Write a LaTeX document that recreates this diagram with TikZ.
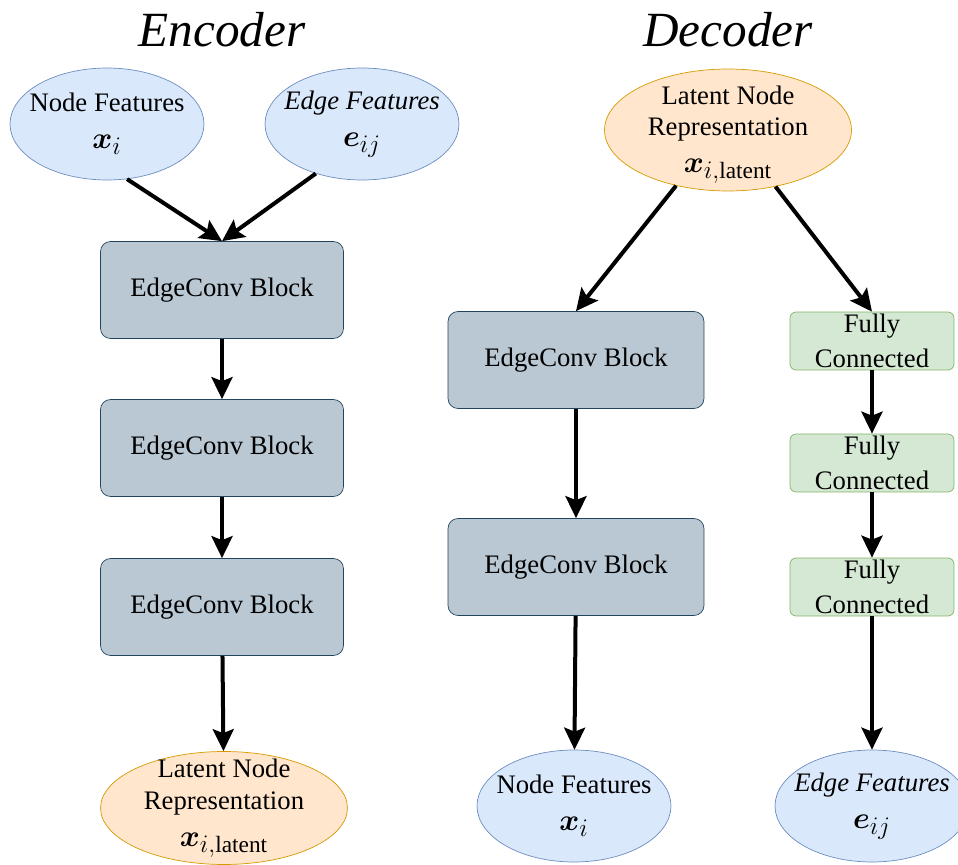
\documentclass[tikz,border=0pt]{standalone}
\usepackage{amsmath, amssymb}
\usepackage{fontspec}
\setmainfont{Liberation Serif}
\usepackage{tikz}
\usetikzlibrary{positioning, shapes.geometric, arrows.meta}
\definecolor{featFillCol}{HTML}{DAE8FC}
\definecolor{featLineCol}{HTML}{6C8EBF}
\definecolor{latFillCol}{HTML}{FFE6CC}
\definecolor{latLineCol}{HTML}{D79B00}
\definecolor{convFillCol}{HTML}{BAC8D3}
\definecolor{convLineCol}{HTML}{23445D}
\definecolor{fcFillCol}{HTML}{D5E8D4}
\definecolor{fcLineCol}{HTML}{82B366}
\tikzset{myText/.style={font=\fontsize{15.2}{18}\selectfont, align=center, inner sep=0pt}}
\tikzset{myFeat/.style={myText, ellipse, inner sep=-0.5cm, draw=featLineCol, fill=featFillCol, minimum width=3.88cm, minimum height=2.24cm}}
\tikzset{myLatent/.style={myText, ellipse, inner sep=-0.5cm, draw=latLineCol, fill=latFillCol, minimum width=4.94cm, minimum height=2.3cm}}
\tikzset{myConv/.style={myText, rectangle, rounded corners=0.2cm, draw=convLineCol, fill=convFillCol, minimum width=4.86cm, minimum height=1.94cm}}
\tikzset{myFC/.style={myText, rectangle, rounded corners=0.12cm, draw=fcLineCol, fill=fcFillCol, minimum width=3.28cm, minimum height=1.16cm}}
\tikzset{myTitle/.style={font=\fontsize{28}{32}\selectfont\itshape}}
\tikzset{myArrow/.style={line width=0.08cm, color=black, -{Stealth[length=0.44cm, width=0.42cm, inset=0.08cm]}}}
\newcommand{\mathBig}[1]{\\[3pt]{\fontsize{19}{22}\selectfont $#1$}}

\begin{document}
\begin{tikzpicture}[x=0.02cm, y=-0.02cm]
	\useasboundingbox (0,0) rectangle (958,865);
	%titles
	\node[myTitle] (encTitle) at (222,30) {Encoder};
	\node[myTitle] (decTitle) at (728,30) {Decoder};

	%encoder
	\node[myFeat] (encNode) at (107,124) {Node Features\mathBig{\boldsymbol{x}_i}};
	\node[myFeat] (encEdge) at (362,124) {\textit{Edge Features}\mathBig{\boldsymbol{e}_{ij}}};
	\node[myConv] (encConvA) at (222,290) {EdgeConv Block};
	\node[myConv] (encConvB) at (222,448) {EdgeConv Block};
	\node[myConv] (encConvC) at (222,607) {EdgeConv Block};
	\node[myLatent, minimum width=4.94cm, minimum height=2.26cm] (encLatent) at (224,808) {Latent Node\\Representation\mathBig{\boldsymbol{x}_{i,\text{latent}}}};

	\draw[myArrow] (encNode.-70) -- (encConvA.north);
	\draw[myArrow] (encEdge.-133) -- (encConvA.north);
	\draw[myArrow] (encConvA) -- (encConvB);
	\draw[myArrow] (encConvB) -- (encConvC);
	\draw[myArrow] (encConvC) -- (encLatent);

	%decoder
	\node[myLatent, minimum height=2.44cm] (decLatent) at (728,130) {\rule{0pt}{16pt}Latent Node\\Representation\mathBig{\boldsymbol{x}_{i,\text{latent}}}};
	\node[myConv, minimum width=5.12cm] (decConvA) at (576,360) {EdgeConv Block};
	\node[myConv, minimum width=5.12cm] (decConvB) at (576,567) {EdgeConv Block};
	\node[myFeat] (decNode) at (574,806) {Node Features\mathBig{\boldsymbol{x}_i}};
	\node[myFC] (decFCA) at (872,341) {Fully\\[2pt]Connected};
	\node[myFC] (decFCB) at (872,463) {Fully\\[2pt]Connected};
	\node[myFC] (decFCC) at (872,587) {Fully\\[2pt]Connected};
	\node[myFeat] (decEdge) at (872,806) {\textit{Edge Features}\mathBig{\boldsymbol{e}_{ij}}};

	\draw[myArrow] (decLatent.-133) -- (decConvA.north);
	\draw[myArrow] (decLatent.-50) -- (decFCA.north);
	\draw[myArrow] (decConvA) -- (decConvB);
	\draw[myArrow] (decConvB) -- (decNode);
	\draw[myArrow] (decFCA) -- (decFCB);
	\draw[myArrow] (decFCB) -- (decFCC);
	\draw[myArrow] (decFCC) -- (decEdge);
\end{tikzpicture}
\end{document}
